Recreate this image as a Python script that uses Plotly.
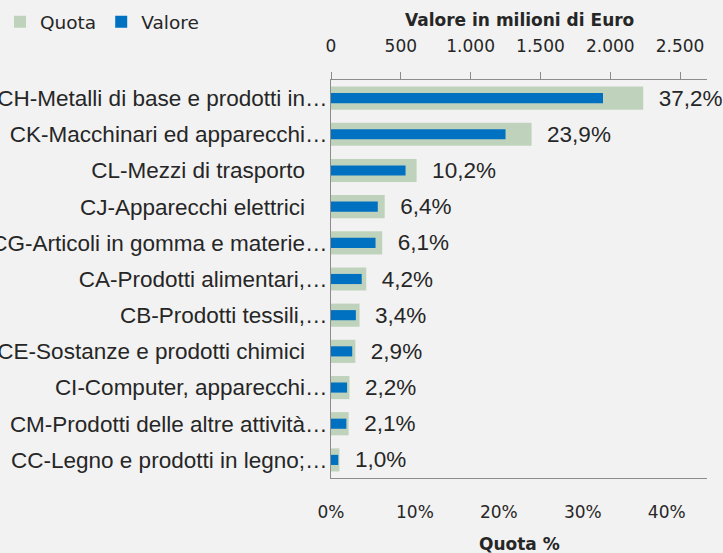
import plotly.graph_objects as go

categorie = [
    "CH-Metalli di base e prodotti in…",
    "CK-Macchinari ed apparecchi…",
    "CL-Mezzi di trasporto",
    "CJ-Apparecchi elettrici",
    "CG-Articoli in gomma e materie…",
    "CA-Prodotti alimentari,…",
    "CB-Prodotti tessili,…",
    "CE-Sostanze e prodotti chimici",
    "CI-Computer, apparecchi…",
    "CM-Prodotti delle altre attività…",
    "CC-Legno e prodotti in legno;…",
]
quota = [37.2, 23.9, 10.2, 6.4, 6.1, 4.2, 3.4, 2.9, 2.2, 2.1, 1.0]
valore = [1948, 1250, 534, 335, 319, 220, 178, 152, 115, 110, 52]

quota_ticks = [0, 10, 20, 30, 40]
valore_ticks = [0, 500, 1000, 1500, 2000, 2500]

# labels that are not truncated keep an invisible ellipsis, as in the original layout
pad = '<span style="color:rgba(0,0,0,0)">…</span>'
etichette = [c if c.endswith("…") else c + pad for c in categorie]

VERDE = "#bfd3bc"
BLU = "#0070c0"
GRIGIO = "#8c8c8c"
TESTO = "#262626"

fig = go.Figure()

fig.add_trace(go.Bar(
    name="Quota",
    y=etichette,
    x=quota,
    orientation="h",
    xaxis="x",
    yaxis="y",
    width=0.64,
    marker=dict(color=VERDE, line=dict(width=0)),
    texttemplate="\u00a0\u00a0%{x:.1f}%",
    textposition="outside",
    constraintext="none",
    cliponaxis=False,
    textfont=dict(family="Liberation Sans, Arial", size=22.5, color=TESTO),
))

fig.add_trace(go.Bar(
    name="Valore",
    y=etichette,
    x=valore,
    orientation="h",
    xaxis="x2",
    yaxis="y",
    width=0.28,
    marker=dict(color=BLU, line=dict(width=0)),
))

titolo_font = dict(family="DejaVu Sans", size=17, color=TESTO)
tick_font = dict(family="DejaVu Sans", size=17, color=TESTO)

fig.update_layout(
    width=723,
    height=553,
    margin=dict(l=331, r=16, t=80, b=75, autoexpand=False),
    paper_bgcolor="#f2f2f2",
    plot_bgcolor="#f2f2f2",
    separators=",.",
    barmode="overlay",
    showlegend=True,
    legend=dict(
        orientation="h",
        xref="container", yref="container",
        x=-0.002, y=0.994, xanchor="left", yanchor="top",
        font=dict(family="DejaVu Sans", size=18.5, color=TESTO),
        bgcolor="rgba(0,0,0,0)",
        itemwidth=30,
        tracegroupgap=0,
    ),
    font=dict(family="DejaVu Sans", color=TESTO),
    xaxis=dict(
        range=[0, 44.8],
        tickvals=quota_ticks,
        ticktext=[f"{t}%" for t in quota_ticks],
        automargin=False,
        showgrid=False,
        zeroline=False,
        showline=True,
        linecolor=GRIGIO,
        linewidth=1,
        ticks="",
        ticklabelstandoff=19,
        tickfont=tick_font,
    ),
    xaxis2=dict(
        overlaying="x",
        side="top",
        range=[0, 2693],
        tickvals=valore_ticks,
        tickformat=",d",
        automargin=False,
        showgrid=False,
        zeroline=False,
        showline=True,
        linecolor=GRIGIO,
        linewidth=1,
        ticks="outside",
        ticklen=7,
        tickcolor=GRIGIO,
        ticklabelstandoff=13,
        tickfont=tick_font,
    ),
    yaxis=dict(
        autorange="reversed",
        automargin=False,
        showgrid=False,
        showline=True,
        linecolor=GRIGIO,
        linewidth=1,
        ticks="",
        ticklabelstandoff=-2,
        tickfont=dict(family="Liberation Sans, Arial", size=22.5, color=TESTO),
    ),
    annotations=[
        dict(text="<b>Valore in milioni di Euro</b>", xref="paper", yref="paper",
             x=0.5, y=(478 - 20) / 398, xanchor="center", yanchor="middle",
             showarrow=False, font=titolo_font),
        dict(text="<b>Quota %</b>", xref="paper", yref="paper",
             x=0.5, y=(478 - 544) / 398, xanchor="center", yanchor="middle",
             showarrow=False, font=titolo_font),
    ],
)

fig.write_html("out.html", config={"displayModeBar": False},
               post_script="document.body.style.margin='0';")
